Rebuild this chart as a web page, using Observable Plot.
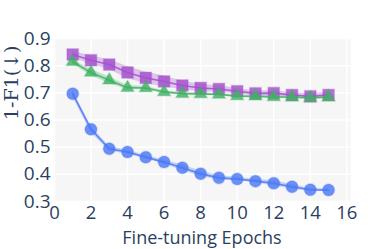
<!DOCTYPE html>
<html>
<head>
<meta charset="utf-8">
<script src="https://cdn.jsdelivr.net/npm/d3@7"></script>
<script src="https://cdn.jsdelivr.net/npm/@observablehq/plot@0.6"></script>
<style>
  html, body { margin: 0; padding: 0; background: #fff; }
  #chart svg { display: block; }
</style>
</head>
<body>
<div id="chart"></div>
<script>
const epochs = [1, 2, 3, 4, 5, 6, 7, 8, 9, 10, 11, 12, 13, 14, 15];
const purpleMean = [0.841, 0.820, 0.804, 0.775, 0.755, 0.742, 0.727, 0.718, 0.714, 0.706, 0.698, 0.699, 0.692, 0.687, 0.692];
const purpleStd  = [0.012, 0.016, 0.018, 0.022, 0.022, 0.020, 0.016, 0.014, 0.012, 0.010, 0.009, 0.009, 0.008, 0.010, 0.010];
const greenMean  = [0.814, 0.775, 0.746, 0.719, 0.718, 0.703, 0.697, 0.696, 0.694, 0.688, 0.687, 0.685, 0.684, 0.681, 0.684];
const greenStd   = [0.008, 0.012, 0.012, 0.008, 0.006, 0.005, 0.004, 0.004, 0.004, 0.004, 0.004, 0.004, 0.004, 0.004, 0.004];
const blueMean   = [0.697, 0.566, 0.494, 0.482, 0.463, 0.445, 0.424, 0.402, 0.387, 0.383, 0.375, 0.367, 0.354, 0.343, 0.342];
const blueStd    = [0.012, 0.012, 0.008, 0.008, 0.006, 0.008, 0.010, 0.010, 0.008, 0.006, 0.006, 0.010, 0.008, 0.006, 0.005];
const xTicks = [0, 2, 4, 6, 8, 10, 12, 14, 16];
const yTicks = [0.3, 0.4, 0.5, 0.6, 0.7, 0.8, 0.9];
const xTitle = "Fine-tuning Epochs";
const yTitle = "1-F1(\u2193)";

const rows = (mean, sd) => epochs.map((e, i) => ({e, m: mean[i], lo: mean[i] - sd[i], hi: mean[i] + sd[i]}));
const purple = rows(purpleMean, purpleStd);
const green = rows(greenMean, greenStd);
const blue = rows(blueMean, blueStd);

const series = (data, color, symbol, r) => [
  Plot.areaY(data, {x: "e", y1: "lo", y2: "hi", fill: color, fillOpacity: 0.3}),
  Plot.line(data, {x: "e", y: "m", stroke: color, strokeWidth: 1.6, strokeOpacity: 0.85}),
  Plot.dot(data, {x: "e", y: "m", symbol, r, fill: color, fillOpacity: 0.82, stroke: color, strokeOpacity: 0.25, strokeWidth: 1.5})
];

const font = "'Open Sans', sans-serif";
const chart = Plot.plot({
  width: 382,
  height: 249,
  marginLeft: 53,
  marginRight: 32,
  marginTop: 38,
  marginBottom: 48,
  style: {fontFamily: font, background: "#fff", color: "#2a3f5f"},
  x: {domain: [-0.05, 16.2]},
  y: {domain: [0.3, 0.9]},
  marks: [
    Plot.frame({fill: "#f6f6f6", stroke: null}),
    Plot.gridX(xTicks, {stroke: "#ffffff", strokeOpacity: 1, strokeWidth: 1.5}),
    Plot.gridY(yTicks, {stroke: "#ffffff", strokeOpacity: 1, strokeWidth: 1.5}),
    Plot.axisX(xTicks, {tickSize: 0, tickPadding: 4, fontSize: 18.5, fill: "#2a3f5f", label: null, tickFormat: d => String(d)}),
    Plot.axisY(yTicks, {tickSize: 0, tickPadding: 3, fontSize: 19, fill: "#2a3f5f", label: null, tickFormat: d => d.toFixed(1)}),
    Plot.text([xTitle], {frameAnchor: "bottom", dy: 42, text: d => d, fontSize: 18, fill: "#2a3f5f"}),
    Plot.text([yTitle], {frameAnchor: "left", dx: -42, rotate: -90, text: d => d, fontSize: 19, fill: "#2a3f5f", fontFamily: "'DejaVu Serif', serif"}),
    ...series(purple, "#a24fcc", "square", 6.5),
    ...series(green, "#3fb163", "triangle", 4.8),
    ...series(blue, "#4a78f5", "circle", 6)
  ]
});
document.getElementById("chart").appendChild(chart);
</script>
</body>
</html>
